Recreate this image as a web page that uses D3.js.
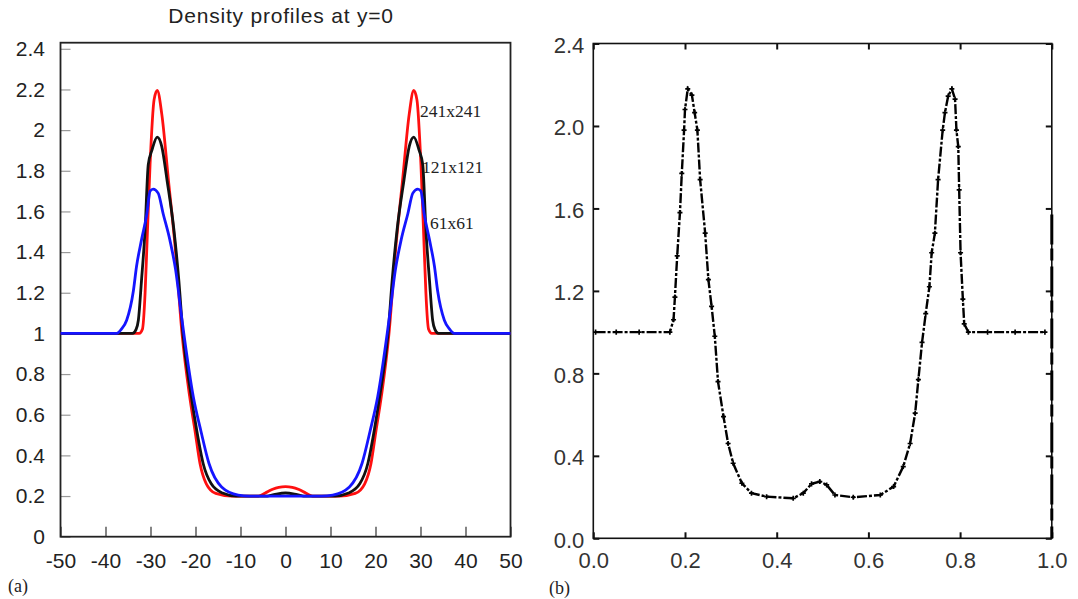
<!DOCTYPE html>
<meta charset="utf-8">
<head>
    <script type="text/javascript" src="https://cdn.jsdelivr.net/npm/d3@7"></script>
    <style>
        body { margin: 0; background: #fff; }
        text { font-family: "Liberation Sans", Arial, sans-serif; }
        .serif { font-family: "Liberation Serif", "Times New Roman", serif; }
    </style>
    <title>Density profiles</title>
</head>
<body>
<div id="chart"></div>
<script>
    // panel (a): density along y=0 for three grids
    var redX = [-50, -32.5, -31.8, -31.2, -30.8, -30.1, -29.2, -28.5, -27.5, -26, -24.5, -23, -21.3, -20.1, -19, -17.6, -15.5, -12, -6, -4.5, -3, -1.5, 0,
                1.5, 3, 4.5, 6, 12, 15.5, 17.6, 19, 20.1, 21.3, 23, 24.5, 26, 27.5, 28.5, 29.2, 30.1, 30.8, 31.2, 31.8, 32.5, 50];
    var redY = [1, 1, 1.02, 1.2, 1.43, 1.83, 2.15, 2.195, 2.08, 1.75, 1.42, 1.0, 0.69, 0.52, 0.36, 0.26, 0.213, 0.2, 0.2, 0.215, 0.232, 0.243, 0.246,
                0.243, 0.232, 0.215, 0.2, 0.2, 0.213, 0.26, 0.36, 0.52, 0.69, 1.0, 1.42, 1.75, 2.08, 2.195, 2.15, 1.83, 1.43, 1.2, 1.02, 1, 1];

    var blackX = [-50, -34, -33.2, -32.7, -32, -31.2, -30.5, -29.7, -28.5, -27.5, -26.3, -24.8, -23.7, -22.8, -21, -19.7, -18.3, -16.5, -14, -11, -4, -2, 0,
                  2, 4, 11, 14, 16.5, 18.3, 19.7, 21, 22.8, 23.7, 24.8, 26.3, 27.5, 28.5, 29.7, 30.5, 31.2, 32, 32.7, 33.2, 34, 50];
    var blackY = [1, 1, 1.02, 1.065, 1.26, 1.51, 1.83, 1.9, 1.966, 1.92, 1.75, 1.51, 1.26, 1.0, 0.7, 0.52, 0.36, 0.26, 0.215, 0.2, 0.2, 0.21, 0.215,
                  0.21, 0.2, 0.2, 0.215, 0.26, 0.36, 0.52, 0.7, 1.0, 1.26, 1.51, 1.75, 1.92, 1.966, 1.9, 1.83, 1.51, 1.26, 1.065, 1.02, 1, 1];

    var blueX = [-50, -37.5, -36.5, -35.3, -33.8, -33.1, -32, -30.8, -30.1, -29.4, -28.3, -27.2, -25.7, -24.4, -23.2, -22.6, -20.5, -18.8, -17, -14.2, -10.5, -8, 0,
                 8, 10.5, 14.2, 17, 18.8, 20.5, 22.6, 23.2, 24.4, 25.7, 27.2, 28.3, 29.4, 30.1, 30.8, 32, 33.1, 33.8, 35.3, 36.5, 37.5, 50];
    var blueY = [1, 1, 1.02, 1.065, 1.21, 1.33, 1.46, 1.59, 1.7, 1.71, 1.69, 1.59, 1.46, 1.31, 1.1, 1.0, 0.69, 0.52, 0.36, 0.245, 0.205, 0.2, 0.2,
                 0.2, 0.205, 0.245, 0.36, 0.52, 0.69, 1.0, 1.1, 1.31, 1.46, 1.59, 1.69, 1.71, 1.7, 1.59, 1.46, 1.33, 1.21, 1.065, 1.02, 1, 1];

    var gridLabels = ["241x241", "121x121", "61x61"];
    var xTicksA = [-50, -40, -30, -20, -10, 0, 10, 20, 30, 40, 50];
    var yTicksA = [0, 0.2, 0.4, 0.6, 0.8, 1, 1.2, 1.4, 1.6, 1.8, 2, 2.2, 2.4];

    // panel (b)
    var bX = [0.005, 0.05, 0.1, 0.167, 0.175, 0.178, 0.183, 0.189, 0.193, 0.198, 0.2, 0.206, 0.215, 0.221, 0.227, 0.233, 0.244, 0.251, 0.258, 0.265,
              0.272, 0.284, 0.294, 0.305, 0.324, 0.345, 0.378, 0.436, 0.458, 0.476, 0.494, 0.509, 0.527, 0.567, 0.626, 0.655, 0.676, 0.691, 0.702, 0.709,
              0.717, 0.725, 0.733, 0.738, 0.745, 0.752, 0.762, 0.767, 0.774, 0.782, 0.789, 0.792, 0.796, 0.798, 0.801, 0.806, 0.809, 0.818, 0.86, 0.92, 0.985];
    var bY = [1.0, 1.0, 1.0, 1.0, 1.06, 1.17, 1.37, 1.58, 1.77, 1.98, 2.08, 2.18, 2.15, 2.065, 1.98, 1.74, 1.48, 1.255, 1.125, 0.98,
              0.76, 0.59, 0.46, 0.364, 0.267, 0.219, 0.202, 0.194, 0.219, 0.264, 0.275, 0.259, 0.21, 0.199, 0.21, 0.251, 0.348, 0.46, 0.607, 0.77,
              0.95, 1.09, 1.22, 1.385, 1.48, 1.74, 1.98, 2.065, 2.145, 2.18, 2.13, 1.98, 1.9, 1.69, 1.385, 1.16, 1.04, 1.0, 1.0, 1.0, 1.0];
    var edgeX = [1.0, 1.0];
    var edgeY = [1.57, 0.0];
    var xTicksB = [0, 0.2, 0.4, 0.6, 0.8, 1.0];
    var yTicksB = [0, 0.4, 0.8, 1.2, 1.6, 2.0, 2.4];

    var W = 1078, H = 599;
    var svg = d3.select("#chart").append("svg").attr("width", W).attr("height", H);

    var xA = d3.scaleLinear().domain([-50, 50]).range([60.5, 510.5]);
    var yA = d3.scaleLinear().domain([0, 2.43]).range([536.7, 42.7]);
    var xB = d3.scaleLinear().domain([0, 1]).range([593.3, 1051.8]);
    var yB = d3.scaleLinear().domain([0, 2.4]).range([538.3, 43.5]);

    function zip(xs, ys) { return xs.map(function (x, i) { return [x, ys[i]]; }); }

    // ---------- panel (a) ----------
    var gA = svg.append("g");

    gA.append("g").attr("transform", "translate(0," + yA(0) + ")")
        .call(d3.axisBottom(xA).tickValues(xTicksA).tickSize(-10).tickPadding(16).tickFormat(function (d) { return d; }))
        .call(function (g) {
            g.select(".domain").remove();
            g.selectAll("line").attr("stroke", "#333").attr("stroke-width", 1.2);
            g.selectAll("text").attr("fill", "#222").style("font-size", "21px");
        });

    gA.append("g").attr("transform", "translate(" + xA(-50) + ",0)")
        .call(d3.axisLeft(yA).tickValues(yTicksA).tickSize(-10).tickPadding(15.5).tickFormat(function (d) { return d; }))
        .call(function (g) {
            g.select(".domain").remove();
            g.selectAll("line").attr("stroke", "#999").attr("stroke-width", 1.2);
            g.selectAll("text").attr("fill", "#222").style("font-size", "21px");
        });

    gA.append("rect")
        .attr("x", xA(-50)).attr("y", yA(2.43))
        .attr("width", xA(50) - xA(-50)).attr("height", yA(0) - yA(2.43))
        .attr("fill", "none").attr("stroke", "#222").attr("stroke-width", 1.8);

    var lineA = d3.line().x(function (d) { return xA(d[0]); }).y(function (d) { return yA(d[1]); })
        .curve(d3.curveMonotoneX);

    var seriesA = [
        { pts: zip(redX, redY), color: "#ff1010" },
        { pts: zip(blackX, blackY), color: "#111" },
        { pts: zip(blueX, blueY), color: "#1515ff" }
    ];
    gA.selectAll("path.curve").data(seriesA).enter().append("path")
        .attr("class", "curve")
        .attr("d", function (d) { return lineA(d.pts); })
        .attr("fill", "none")
        .attr("stroke", function (d) { return d.color; })
        .attr("stroke-width", 2.8)
        .attr("stroke-linejoin", "round");

    // grid size labels next to the right peak
    var labelPos = [[420, 117], [422, 173], [430, 229]];
    gA.selectAll("text.grid").data(gridLabels).enter().append("text")
        .attr("class", "grid serif")
        .attr("x", function (d, i) { return labelPos[i][0]; })
        .attr("y", function (d, i) { return labelPos[i][1]; })
        .attr("fill", "#222").style("font-size", "17.5px")
        .text(function (d) { return d; });

    svg.append("text")
        .attr("x", 281).attr("y", 23)
        .attr("text-anchor", "middle")
        .attr("fill", "#222")
        .style("font-size", "21px").style("letter-spacing", "0.8px")
        .text("Density profiles at y=0");

    svg.append("text").attr("class", "serif")
        .attr("x", 8).attr("y", 592).attr("fill", "#222").style("font-size", "18px").text("(a)");

    // ---------- panel (b) ----------
    var gB = svg.append("g");

    function styleB(g, withText) {
        g.select(".domain").remove();
        g.selectAll("line").attr("stroke", "#111").attr("stroke-width", 2);
        if (withText) g.selectAll("text").attr("fill", "#333").style("font-size", "22px");
    }

    gB.append("g").attr("transform", "translate(0," + yB(0) + ")")
        .call(d3.axisBottom(xB).tickValues(xTicksB).tickSize(-6).tickPadding(14).tickFormat(d3.format(".1f")))
        .call(function (g) { styleB(g, true); });
    gB.append("g").attr("transform", "translate(0," + yB(2.4) + ")")
        .call(d3.axisTop(xB).tickValues(xTicksB).tickSize(-6).tickFormat(""))
        .call(function (g) { styleB(g, false); });
    gB.append("g").attr("transform", "translate(" + xB(0) + ",0)")
        .call(d3.axisLeft(yB).tickValues(yTicksB).tickSize(-6).tickPadding(9).tickFormat(d3.format(".1f")))
        .call(function (g) { styleB(g, true); g.selectAll("text").attr("dy", "0.4em"); });
    gB.append("g").attr("transform", "translate(" + xB(1) + ",0)")
        .call(d3.axisRight(yB).tickValues(yTicksB).tickSize(-6).tickFormat(""))
        .call(function (g) { styleB(g, false); });

    gB.append("rect")
        .attr("x", xB(0)).attr("y", yB(2.4))
        .attr("width", xB(1) - xB(0)).attr("height", yB(0) - yB(2.4))
        .attr("fill", "none").attr("stroke", "#111").attr("stroke-width", 1.6);

    var lineB = d3.line().x(function (d) { return xB(d[0]); }).y(function (d) { return yB(d[1]); });
    var ptsB = zip(bX, bY);

    gB.append("path")
        .attr("d", lineB(ptsB))
        .attr("fill", "none").attr("stroke", "#000").attr("stroke-width", 2.4)
        .attr("stroke-dasharray", "10,2,3,2");

    // small plus markers along the profile
    var plus = d3.symbol().type(d3.symbolCross).size(14);
    gB.selectAll("path.mk").data(ptsB).enter().append("path")
        .attr("class", "mk")
        .attr("d", plus)
        .attr("transform", function (d) { return "translate(" + xB(d[0]) + "," + yB(d[1]) + ")"; })
        .attr("fill", "#000");

    gB.append("path")
        .attr("d", lineB(zip(edgeX, edgeY)))
        .attr("fill", "none").attr("stroke", "#000").attr("stroke-width", 3)
        .attr("stroke-dasharray", "30,4,12,6");

    svg.append("text").attr("class", "serif")
        .attr("x", 549).attr("y", 594).attr("fill", "#222").style("font-size", "18px").text("(b)");
</script>
</body>
</html>
